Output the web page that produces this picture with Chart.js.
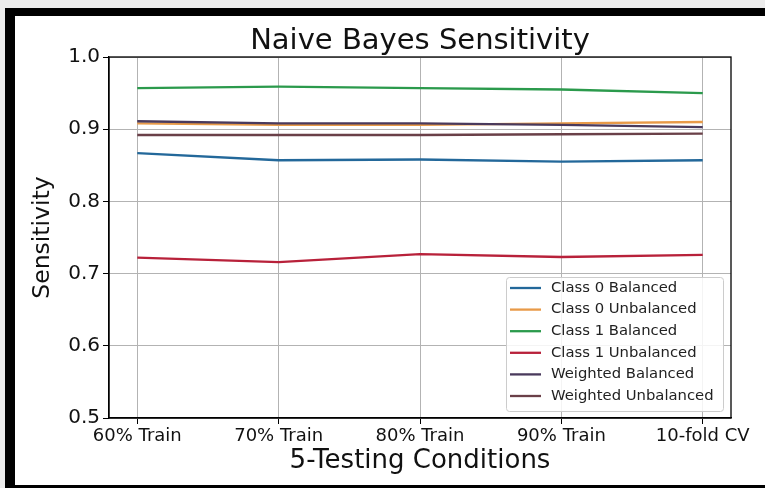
<!DOCTYPE html>
<html>
<head>
<meta charset="utf-8">
<script src="https://cdn.jsdelivr.net/npm/chart.js@4.4.1/dist/chart.umd.min.js"></script>
<style>
  html, body { margin: 0; padding: 0; background: #ececec; }
  #frame {
    position: absolute; left: 5px; top: 8px; width: 750px; height: 469px;
    border-top: 8px solid #000; border-left: 10px solid #000; border-bottom: 3px solid #000;
    background: #fff;
  }
  #wrap { position: absolute; left: 0; top: 0; width: 765px; height: 488px; }
</style>
</head>
<body>
<div id="frame"></div>
<div id="wrap"><canvas id="sensChart" width="765" height="488"></canvas></div>
<script>
// Data
const conditions = ['60% Train', '70% Train', '80% Train', '90% Train', '10-fold CV'];
const yTicks = [0.5, 0.6, 0.7, 0.8, 0.9, 1.0];

const class0Balanced   = [0.867, 0.857, 0.858, 0.855, 0.857];
const class0Unbalanced = [0.908, 0.906, 0.906, 0.908, 0.910];
const class1Balanced   = [0.957, 0.959, 0.957, 0.955, 0.950];
const class1Unbalanced = [0.722, 0.716, 0.727, 0.723, 0.726];
const weightedBalanced   = [0.911, 0.908, 0.908, 0.906, 0.903];
const weightedUnbalanced = [0.892, 0.892, 0.892, 0.893, 0.894];

const seriesNames  = ['Class 0 Balanced', 'Class 0 Unbalanced', 'Class 1 Balanced',
                      'Class 1 Unbalanced', 'Weighted Balanced', 'Weighted Unbalanced'];
const seriesValues = [class0Balanced, class0Unbalanced, class1Balanced,
                      class1Unbalanced, weightedBalanced, weightedUnbalanced];
const seriesColors = ['#23689a', '#e89a48', '#2b9a4c', '#b8213a', '#4a3a5c', '#6a4048'];
const chartTitle = 'Naive Bayes Sensitivity';

const FONT = 'DejaVu Sans';

// title centred over the plot area (matplotlib style)
const plotTitle = {
    id: 'plotTitle',
    afterDraw(chart) {
        const { ctx, chartArea } = chart;
        ctx.save();
        ctx.font = '29px "' + FONT + '"';
        ctx.fillStyle = '#111';
        ctx.textAlign = 'center';
        ctx.textBaseline = 'alphabetic';
        ctx.fillText(chartTitle, (chartArea.left + chartArea.right) / 2, chartArea.top - 8);
        ctx.restore();
    }
};

// legend drawn inside the plot, lower right
const innerLegend = {
    id: 'innerLegend',
    afterDraw(chart) {
        const { ctx, chartArea } = chart;
        const w = 217, h = 134;
        const x = chartArea.right - 8 - w;
        const y = chartArea.bottom - 7 - h;
        ctx.save();
        ctx.fillStyle = 'rgba(255,255,255,0.85)';
        ctx.strokeStyle = '#cccccc';
        ctx.lineWidth = 1;
        ctx.beginPath();
        ctx.roundRect(x + 0.5, y + 0.5, w, h, 3);
        ctx.fill();
        ctx.stroke();
        ctx.font = '14.8px "' + FONT + '"';
        ctx.textBaseline = 'middle';
        ctx.fillStyle = '#222';
        chart.data.datasets.forEach((ds, i) => {
            const ry = y + 11 + i * 21.6;
            ctx.strokeStyle = ds.borderColor;
            ctx.lineWidth = 2.3;
            ctx.beginPath();
            ctx.moveTo(x + 4, ry);
            ctx.lineTo(x + 35, ry);
            ctx.stroke();
            ctx.fillText(ds.label, x + 45, ry);
        });
        ctx.restore();
    }
};

// top and right spines
const frameBox = {
    id: 'frameBox',
    afterDatasetsDraw(chart) {
        const { ctx, chartArea } = chart;
        ctx.save();
        ctx.strokeStyle = '#000';
        ctx.lineWidth = 1.3;
        ctx.strokeRect(chartArea.left, chartArea.top,
                       chartArea.right - chartArea.left, chartArea.bottom - chartArea.top);
        ctx.restore();
    }
};

const ctx = document.getElementById('sensChart').getContext('2d');
const sensChart = new Chart(ctx, {
    type: 'line',
    data: {
        datasets: seriesNames.map((name, i) => ({
            label: name,
            data: seriesValues[i].map((v, j) => ({ x: j, y: v })),
            borderColor: seriesColors[i],
            backgroundColor: seriesColors[i],
            borderWidth: 2.3,
            pointRadius: 0,
            tension: 0,
            order: seriesNames.length - i
        }))
    },
    options: {
        responsive: false,
        animation: false,
        layout: { padding: { left: 15, right: 34, top: 57, bottom: 5 } },
        plugins: {
            legend: { display: false },
            tooltip: { enabled: false },
            title: { display: false }
        },
        scales: {
            x: {
                type: 'linear',
                min: -0.2,
                max: conditions.length - 1 + 0.2,
                afterBuildTicks: (scale) => { scale.ticks = conditions.map((_, i) => ({ value: i })); },
                afterFit: (scale) => { scale.height = 65; },
                ticks: {
                    callback: (v) => conditions[v],
                    color: '#111',
                    font: { family: FONT, size: 18 },
                    padding: 2,
                    maxRotation: 0
                },
                grid: { color: '#b3b3b3', lineWidth: 1, tickLength: 6, tickColor: '#000' },
                border: { color: '#000', width: 1.3 },
                title: {
                    display: true,
                    text: '5-Testing Conditions',
                    color: '#111',
                    font: { family: FONT, size: 26 },
                    padding: { top: 0, bottom: 6 }
                }
            },
            y: {
                min: yTicks[0],
                max: yTicks[yTicks.length - 1],
                afterBuildTicks: (scale) => { scale.ticks = yTicks.map(v => ({ value: v })); },
                afterFit: (scale) => { scale.width = 94; },
                ticks: {
                    callback: (v) => v.toFixed(1),
                    color: '#111',
                    font: { family: FONT, size: 20 },
                    padding: 3
                },
                grid: { color: '#b3b3b3', lineWidth: 1, tickLength: 6, tickColor: '#000' },
                border: { color: '#000', width: 1.3 },
                title: {
                    display: true,
                    text: 'Sensitivity',
                    color: '#111',
                    font: { family: FONT, size: 23.5 },
                    padding: { top: 14, bottom: 0 }
                }
            }
        }
    },
    plugins: [plotTitle, innerLegend, frameBox]
});
</script>
</body>
</html>
